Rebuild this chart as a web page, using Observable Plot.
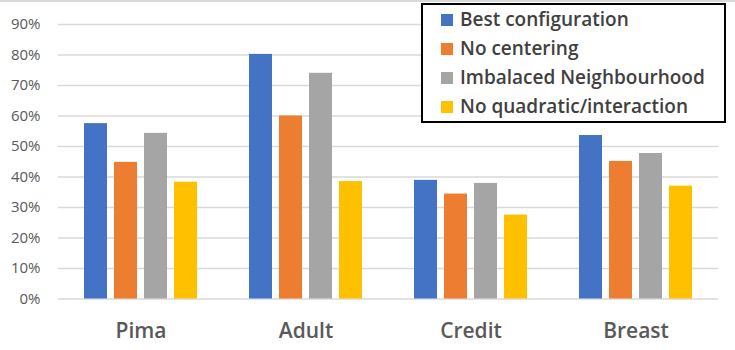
<!DOCTYPE html>
<html>
<head>
<meta charset="utf-8">
<script src="https://cdn.jsdelivr.net/npm/d3@7"></script>
<script src="https://cdn.jsdelivr.net/npm/@observablehq/plot@0.6"></script>
<style>
  html, body { margin: 0; padding: 0; background: #fff; }
  #wrap { position: relative; width: 735px; height: 348px; border-top: 2px solid #d9d9d9; font-family: "Open Sans", sans-serif; }
  #legend { position: absolute; left: 421px; top: 1px; width: 301px; border: 2px solid #000; background: #fff; padding: 0; }
  .row { height: 29px; line-height: 29px; display: flex; align-items: center; font-size: 19px; font-weight: 600; color: #404040; white-space: nowrap; }
  .sw { width: 12px; height: 12px; margin-left: 18px; margin-right: 7px; flex: none; }
</style>
</head>
<body>
<div id="wrap"></div>
<script>
const categories = ["Pima", "Adult", "Credit", "Breast"];
const series = ["Best configuration", "No centering", "Imbalaced Neighbourhood", "No quadratic/interaction"];
const colors = ["#4472C4", "#ED7D31", "#A5A5A5", "#FFC000"];
const bestConfiguration = [0.575, 0.802, 0.389, 0.536];
const noCentering = [0.448, 0.600, 0.344, 0.451];
const imbalancedNeighbourhood = [0.543, 0.740, 0.379, 0.477];
const noQuadratic = [0.383, 0.385, 0.275, 0.370];
const yTicks = [0, 0.1, 0.2, 0.3, 0.4, 0.5, 0.6, 0.7, 0.8, 0.9];

const seriesValues = [bestConfiguration, noCentering, imbalancedNeighbourhood, noQuadratic];
const data = [];
categories.forEach((c, i) => {
  series.forEach((s, j) => data.push({cat: c, series: s, value: seriesValues[j][i]}));
});

const chart = Plot.plot({
  width: 735,
  height: 348,
  marginLeft: 58,
  marginRight: 17,
  marginTop: 22,
  marginBottom: 51.5,
  style: {fontFamily: "Open Sans, sans-serif", background: "#fff"},
  fx: {domain: categories, padding: 0, label: null},
  x: {domain: series, paddingInner: 0.25, paddingOuter: 0.875, axis: null},
  y: {domain: [0, 0.9], label: null},
  color: {domain: series, range: colors},
  marks: [
    Plot.gridY(yTicks, {stroke: "#d9d9d9", strokeOpacity: 1, strokeWidth: 1.4}),
    Plot.axisY(yTicks, {tickSize: 0, tickPadding: 18, tickFormat: d3.format(".0%"), fontSize: 15, fill: "#595959", label: null}),
    Plot.barY(data, {fx: "cat", x: "series", y: "value", fill: "series"}),
    Plot.axisFx({anchor: "bottom", tickSize: 0, tickPadding: 24, fontSize: 21, fontWeight: 600, fill: "#595959", label: null})
  ]
});

const wrap = document.getElementById("wrap");
wrap.appendChild(chart);

const legend = document.createElement("div");
legend.id = "legend";
series.forEach((s, j) => {
  const row = document.createElement("div");
  row.className = "row";
  const sw = document.createElement("span");
  sw.className = "sw";
  sw.style.background = colors[j];
  const t = document.createElement("span");
  t.textContent = s;
  row.appendChild(sw);
  row.appendChild(t);
  legend.appendChild(row);
});
wrap.appendChild(legend);
</script>
</body>
</html>
